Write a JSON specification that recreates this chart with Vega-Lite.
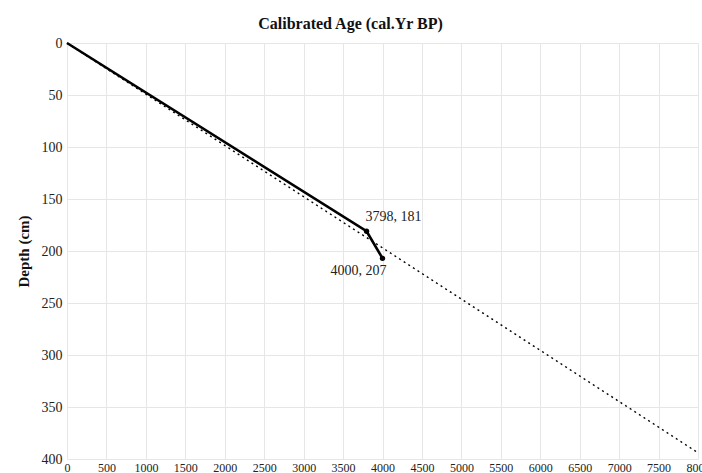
{
  "$schema": "https://vega.github.io/schema/vega-lite/v6.json",
  "width": 631,
  "height": 416,
  "autosize": {"type": "none"},
  "padding": {"left": 67, "top": 43, "right": 4, "bottom": 14},
  "background": "white",
  "title": {
    "text": "Calibrated Age (cal.Yr BP)",
    "font": "Liberation Serif",
    "fontSize": 16,
    "fontWeight": "bold",
    "color": "#111",
    "anchor": "middle",
    "dx": -32,
    "offset": 4
  },
  "config": {
    "view": {"stroke": null},
    "axis": {
      "labelFont": "Liberation Serif",
      "titleFont": "Liberation Serif",
      "labelColor": "#222",
      "titleColor": "#111",
      "gridColor": "#e6e6e6",
      "domain": false,
      "ticks": false
    }
  },
  "datasets": {
    "lines": [
      {"series": "Age model", "age": 0, "depth": 0},
      {"series": "Age model", "age": 3798, "depth": 181},
      {"series": "Age model", "age": 4000, "depth": 207},
      {"series": "Linear", "age": 0, "depth": 0},
      {"series": "Linear", "age": 8000, "depth": 394}
    ],
    "points": [
      {"age": 3798, "depth": 181, "label": "3798, 181", "pos": "above"},
      {"age": 4000, "depth": 207, "label": "4000, 207", "pos": "below"}
    ]
  },
  "encoding": {
    "x": {
      "field": "age",
      "type": "quantitative",
      "scale": {"domain": [0, 8000], "nice": false},
      "axis": {"values": [0,500,1000,1500,2000,2500,3000,3500,4000,4500,5000,5500,6000,6500,7000,7500,8000], "format": "d", "title": null, "labelFontSize": 12, "labelPadding": 3, "labelOverlap": false, "labelBound": false, "labelFlush": false}
    },
    "y": {
      "field": "depth",
      "type": "quantitative",
      "scale": {"domain": [0, 400], "reverse": true, "nice": false},
      "axis": {"values": [0,50,100,150,200,250,300,350,400], "title": "Depth (cm)", "titleFontSize": 15, "titleFontWeight": "bold", "labelFontSize": 14, "labelPadding": 5, "titlePadding": 10}
    }
  },
  "layer": [
    {
      "data": {"name": "lines"},
      "transform": [{"filter": "datum.series === 'Linear'"}],
      "mark": {"type": "line", "color": "black", "strokeWidth": 1.4, "strokeDash": [2, 3.5]}
    },
    {
      "data": {"name": "lines"},
      "transform": [{"filter": "datum.series === 'Age model'"}],
      "mark": {"type": "line", "color": "black", "strokeWidth": 2.6}
    },
    {
      "data": {"name": "points"},
      "mark": {"type": "circle", "color": "black", "size": 28, "opacity": 1}
    },
    {
      "data": {"name": "points"},
      "transform": [{"filter": "datum.pos === 'above'"}],
      "mark": {"type": "text", "font": "Liberation Serif", "fontSize": 14, "color": "#222", "align": "left", "dx": -1, "dy": -14},
      "encoding": {"text": {"field": "label"}}
    },
    {
      "data": {"name": "points"},
      "transform": [{"filter": "datum.pos === 'below'"}],
      "mark": {"type": "text", "font": "Liberation Serif", "fontSize": 14, "color": "#222", "align": "right", "dx": 4, "dy": 13},
      "encoding": {"text": {"field": "label"}}
    }
  ]
}
